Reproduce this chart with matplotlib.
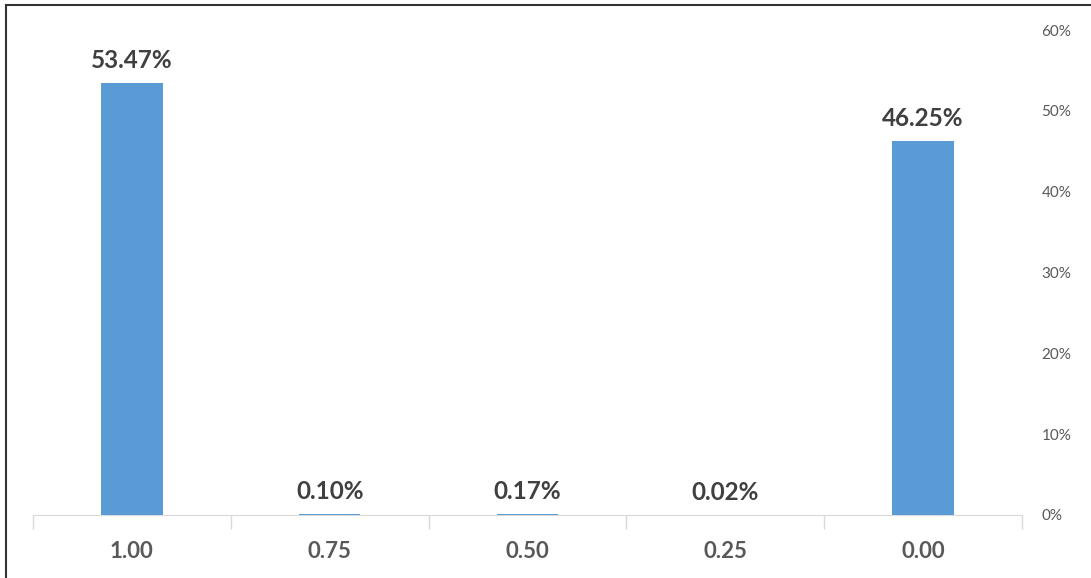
import matplotlib.pyplot as plt
from matplotlib.ticker import FuncFormatter, FixedLocator

categories = ["1.00", "0.75", "0.50", "0.25", "0.00"]
shares = [53.47, 0.10, 0.17, 0.02, 46.25]
yticks = [0, 10, 20, 30, 40, 50, 60]

plt.rcParams['font.family'] = ['Lato', 'DejaVu Sans']

fig = plt.figure(figsize=(10.91, 5.78), dpi=100)
ax = fig.add_axes([0.0302, 0.109, 0.9066, 0.839])

x = range(len(categories))
ax.bar(x, shares, width=0.31, color='#5b9bd5', zorder=3)

for xi, v in zip(x, shares):
    ax.annotate(f"{v:.2f}%", (xi, v), xytext=(0, 11), textcoords='offset pixels',
                ha='center', va='bottom', fontsize=17.5, fontweight='bold', color='#404040')

ax.set_xlim(-0.5, len(categories) - 0.5)
ax.set_ylim(0, 60)

# right-hand percentage axis, no spine
ax.yaxis.tick_right()
ax.set_yticks(yticks)
ax.yaxis.set_major_formatter(FuncFormatter(lambda v, p: f"{v:.0f}%"))
ax.tick_params(axis='y', length=0, pad=14, labelsize=11, labelcolor='#595959')

# category labels centred, tick marks between categories
ax.set_xticks(list(x))
ax.set_xticklabels(categories)
ax.tick_params(axis='x', length=0, pad=19, labelsize=16, labelcolor='#595959')
for lab in ax.get_xticklabels():
    lab.set_fontweight('bold')
ax.xaxis.set_minor_locator(FixedLocator([i - 0.5 for i in range(len(categories) + 1)]))
ax.tick_params(axis='x', which='minor', length=10, color='#d9d9d9', width=1)

for s in ['left', 'right', 'top']:
    ax.spines[s].set_visible(False)
ax.spines['bottom'].set_color('#d9d9d9')

# outer frame of the original picture
frame = plt.Rectangle((6 / 1091, -0.05), 1.1, (578 - 5) / 578 + 0.05, transform=fig.transFigure,
                      fill=False, edgecolor='#333333', linewidth=1.5)
fig.patches.append(frame)

fig.savefig('out.png', dpi=100)
